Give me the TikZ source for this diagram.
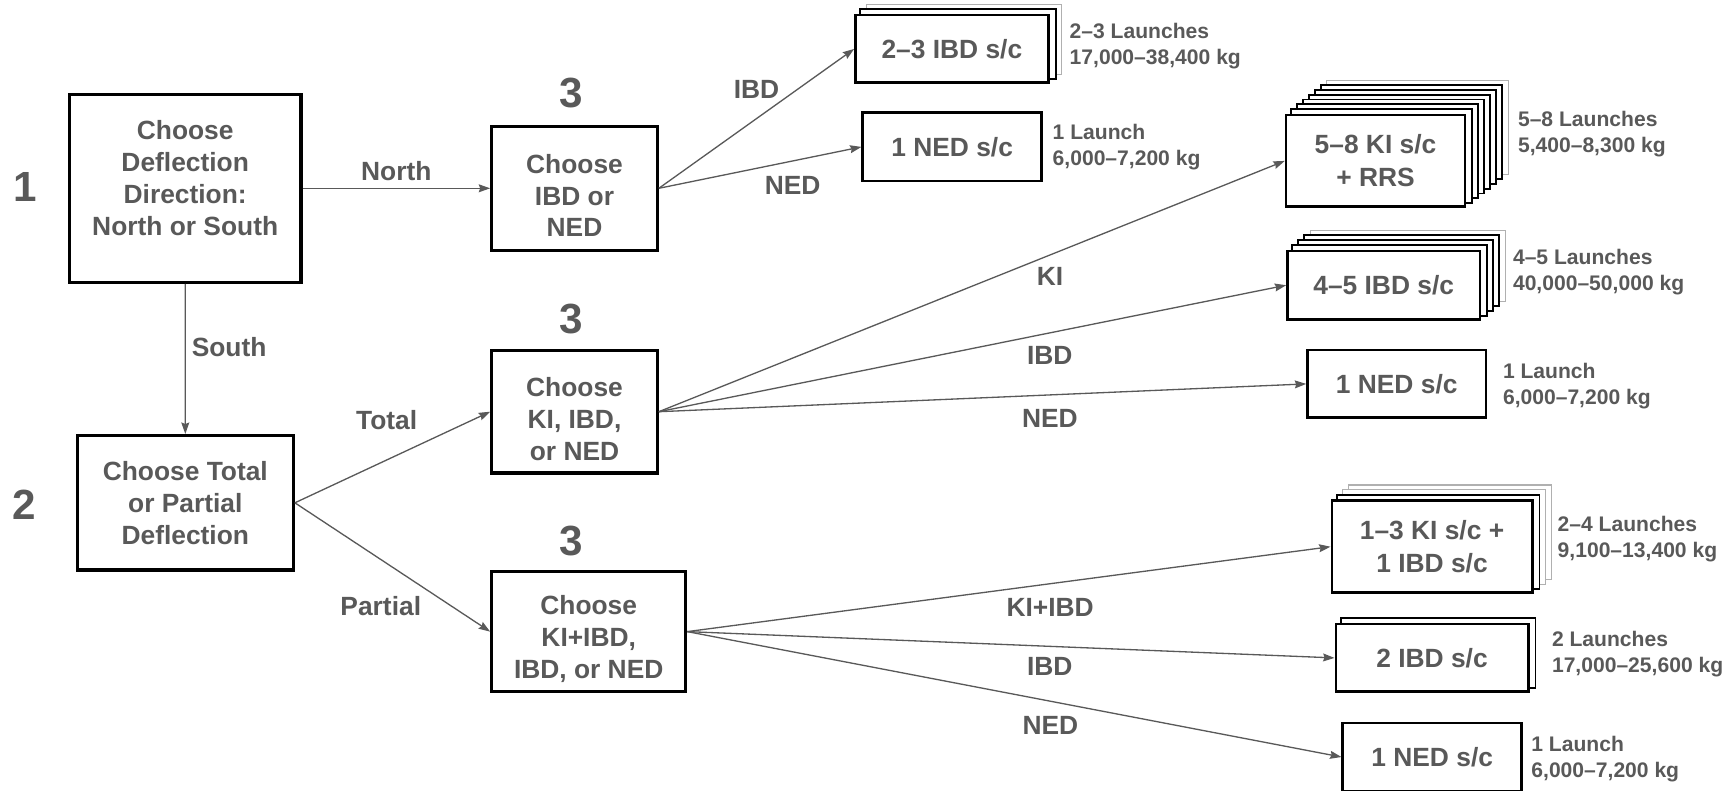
\documentclass[tikz,border=0pt]{standalone}
\usepackage{fontspec}
\setmainfont{Liberation Sans}
\usetikzlibrary{positioning,arrows.meta,backgrounds}
\definecolor{inkgray}{HTML}{595959}
\definecolor{faintgray}{HTML}{B0B0B0}

\tikzset{
  choice/.style={draw=black, line width=1.8pt, fill=white, align=center, text=inkgray,
    font=\fontsize{15}{18.2}\selectfont\bfseries},
  option/.style={draw=black, line width=1.4pt, fill=white, align=center, text=inkgray,
    font=\fontsize{15}{18.8}\selectfont\bfseries},
  stagenum/.style={text=inkgray, font=\fontsize{24}{28}\selectfont\bfseries},
  edgelbl/.style={text=inkgray, font=\fontsize{15}{18}\selectfont\bfseries},
  launch/.style={anchor=west, align=left, text=inkgray,
    font=\fontsize{12}{14.8}\selectfont\bfseries},
  link/.style={draw=inkgray, line width=0.75pt,
    -{Stealth[length=6.5pt,width=4.5pt,inset=0.8pt]}},
  layerbox/.style={draw=black, line width=1.1pt, fill=white},
  layerfaint/.style={draw=faintgray, line width=0.7pt, fill=white},
}

\begin{document}
\begin{tikzpicture}[x=0.2mm, y=-0.2mm]
  \useasboundingbox (0,0) rectangle (1733,790);

  % decision boxes
  \node[choice, minimum width=46.3mm, minimum height=37.6mm] (dir) at (185.2,188.3)
    {Choose\\Deflection\\Direction:\\North or South\rule[-11.5pt]{0pt}{11.5pt}};
  \node[choice, minimum width=43.2mm, minimum height=26.9mm] (extent) at (185.3,502.8)
    {Choose Total\\or Partial\\Deflection};
  \node[choice, minimum width=33.1mm, minimum height=24.8mm] (north) at (574.5,188.3)
    {\rule{0pt}{19pt}Choose\\IBD or\\NED};
  \node[choice, minimum width=33.1mm, minimum height=24.5mm] (total) at (574.5,411.7)
    {\rule{0pt}{19pt}Choose\\KI, IBD,\\or NED};
  \node[choice, minimum width=38.8mm, minimum height=24.1mm] (partial) at (588.7,631.6)
    {\rule{0pt}{19pt}Choose\\KI+IBD,\\IBD, or NED};

  % stage numbers
  \node[stagenum] (s1) at (25,186.5) {1};
  \node[stagenum] (s2) at (24.5,504.5) {2};
  \node[stagenum] (s3a) at (571.5,92.7) {3};
  \node[stagenum] (s3b) at (571.5,318.9) {3};
  \node[stagenum] (s3c) at (571.5,541) {3};

  % spacecraft options
  \node[option, minimum width=38.6mm, minimum height=13.5mm] (ibdA) at (951.9,48.9) {2–3 IBD s/c};
  \node[option, minimum width=35.8mm, minimum height=13.7mm] (nedA) at (952.2,146.9) {1 NED s/c};
  \node[option, minimum width=35.8mm, minimum height=18.3mm] (kiB) at (1375.5,160.9) {5–8 KI s/c\\+ RRS};
  \node[option, minimum width=38.5mm, minimum height=13.7mm] (ibdB) at (1383.7,285.2) {4–5 IBD s/c};
  \node[option, minimum width=35.7mm, minimum height=13.5mm] (nedB) at (1396.7,383.9) {1 NED s/c};
  \node[option, minimum width=40.1mm, minimum height=18.4mm] (kiC) at (1432,546.7) {1–3 KI s/c +\\1 IBD s/c};
  \node[option, minimum width=38.5mm, minimum height=13.5mm] (ibdC) at (1432,657.9) {2 IBD s/c};
  \node[option, minimum width=35.8mm, minimum height=13.5mm] (nedC) at (1432.2,757) {1 NED s/c};

  % stacked copies behind the options
  \begin{scope}[on background layer]
    \foreach \s/\n/\g in {ibdA/2/1, kiB/7/1, ibdB/4/1, kiC/3/2, ibdC/1/0} {
      \foreach \i in {\n,...,1} {
        \ifnum\i>\numexpr\n-\g\relax \def\look{layerfaint}\else\def\look{layerbox}\fi
        \draw[\look] ([shift={(\i*6,-\i*4.8)}]\s.south west)
          rectangle ([shift={(\i*6,-\i*4.8)}]\s.north east);
      }
    }
  \end{scope}

  % launch notes
  \node[launch] (lA1) at (1063.5,46) {2–3 Launches\\17,000–38,400 kg};
  \node[launch] (lA2) at (1046.5,147.2) {1 Launch\\6,000–7,200 kg};
  \node[launch] (lB1) at (1511.8,134) {5–8 Launches\\5,400–8,300 kg};
  \node[launch] (lB2) at (1506.8,272.4) {4–5 Launches\\40,000–50,000 kg};
  \node[launch] (lB3) at (1496.8,386) {1 Launch\\6,000–7,200 kg};
  \node[launch] (lC1) at (1551.5,539) {2–4 Launches\\9,100–13,400 kg};
  \node[launch] (lC2) at (1545.8,654) {2 Launches\\17,000–25,600 kg};
  \node[launch] (lC3) at (1525.2,758.7) {1 Launch\\6,000–7,200 kg};

  % connectors
  \draw[link] (dir.east) -- node[edgelbl, above=0.2mm] {North} (north.west);
  \draw[link] (dir.south) -- node[edgelbl, right=0mm, pos=0.42] {South} (extent.north);
  \draw[link] (extent.east) -- node[edgelbl, above=4.7mm, pos=0.47] {Total} (total.west);
  \draw[link] (extent.east) -- node[edgelbl, below=6.1mm, pos=0.44] {Partial} (partial.west);

  \draw[link] (north.east) -- node[edgelbl, above=2.7mm, pos=0.5] {IBD} (ibdA.west);
  \draw[link] (north.east) -- node[edgelbl, below=1.7mm, pos=0.66] {NED} (nedA.west);

  \draw[link] (total.east) -- node[edgelbl, below=1.2mm, pos=0.625] {KI} (kiB.west);
  \draw[link] (total.east) -- node[edgelbl, below=1.3mm, pos=0.623] {IBD} (ibdB.west);
  \draw[link] (total.east) -- node[edgelbl, below=1.5mm, pos=0.604] {NED} (nedB.west);

  \draw[link] (partial.east) -- node[edgelbl, below=1.6mm, pos=0.564] {KI+IBD} (kiC.west);
  \draw[link] (partial.east) -- node[edgelbl, below=1mm, pos=0.56] {IBD} (ibdC.west);
  \draw[link] (partial.east) -- node[edgelbl, below=1.7mm, pos=0.555] {NED} (nedC.west);
\end{tikzpicture}
\end{document}
